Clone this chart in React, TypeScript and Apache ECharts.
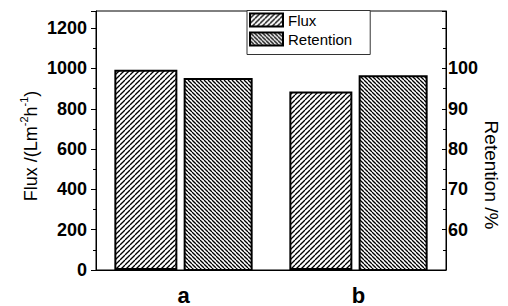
import React, { useEffect, useRef } from "react";
import * as echarts from "echarts";

const categories = ["a", "b"];
const fluxValues = [993, 886];
const retentionValues = [97.6, 98.3];
const fluxTickLabels = [0, 200, 400, 600, 800, 1000, 1200];
const retentionTickLabels = [60, 70, 80, 90, 100];

const FONT = "'Liberation Sans', Arial, sans-serif";

function hatch(size: number, forward: boolean, lw: number) {
  const c = document.createElement("canvas");
  c.width = size;
  c.height = size;
  const ctx = c.getContext("2d")!;
  ctx.fillStyle = "#fff";
  ctx.fillRect(0, 0, size, size);
  ctx.strokeStyle = "#000";
  ctx.lineWidth = lw;
  for (let k = -1; k <= 1; k++) {
    ctx.beginPath();
    if (forward) {
      ctx.moveTo(k * size, size);
      ctx.lineTo(k * size + size, 0);
    } else {
      ctx.moveTo(k * size, 0);
      ctx.lineTo(k * size + size, size);
    }
    ctx.stroke();
  }
  return c;
}

export default function App() {
  const ref = useRef<HTMLDivElement>(null);
  useEffect(() => {
    if (!ref.current) return;
    const chart = echarts.init(ref.current, null, { renderer: "svg", width: 508, height: 306 });
    const fluxPattern = { image: hatch(5, true, 1.3), repeat: "repeat" };
    const retPattern = { image: hatch(4, false, 1.3), repeat: "repeat" };
    chart.setOption({
      animation: false,
      backgroundColor: "#fff",
      grid: {
        left: 96,
        top: 11,
        width: 350,
        height: 260.5,
        show: true,
        borderColor: "#000",
        borderWidth: 1,
        backgroundColor: "transparent",
      },
      legend: {
        orient: "vertical",
        left: 247,
        top: 10.5,
        padding: [2, 18, 8, 2],
        itemWidth: 33,
        itemHeight: 13,
        itemGap: 4,
        borderColor: "#333",
        borderWidth: 1,
        backgroundColor: "#fff",
        icon: "rect",
        textStyle: { fontFamily: FONT, fontSize: 15, color: "#000" },
        data: ["Flux", "Retention"],
      },
      xAxis: [
        {
          type: "category",
          data: categories,
          axisLine: { lineStyle: { color: "#000", width: 1 } },
          axisTick: { alignWithLabel: true, length: 5, lineStyle: { color: "#000" } },
          axisLabel: {
            margin: 14,
            fontFamily: FONT,
            fontSize: 22,
            fontWeight: "bold",
            color: "#000",
          },
        },
        {
          type: "category",
          data: categories,
          position: "bottom",
          axisLine: { show: false },
          axisTick: { length: 3, lineStyle: { color: "#000" } },
          axisLabel: { show: false },
        },
      ],
      yAxis: [
        {
          type: "value",
          min: 0,
          max: 1285,
          interval: 200,
          position: "left",
          splitLine: { show: false },
          axisLine: { show: true, lineStyle: { color: "#000" } },
          axisTick: { show: true, length: 5, lineStyle: { color: "#000" } },
          minorTick: { show: true, splitNumber: 2, length: 3, lineStyle: { color: "#000" } },
          axisLabel: {
            margin: 9,
            fontFamily: FONT,
            fontSize: 18,
            fontWeight: "bold",
            color: "#000",
            showMaxLabel: false,
            formatter: (v: number) => (fluxTickLabels.includes(v) ? String(v) : ""),
          },
        },
        {
          type: "value",
          min: 50,
          max: 114.25,
          interval: 10,
          position: "right",
          splitLine: { show: false },
          axisLine: { show: true, lineStyle: { color: "#000" } },
          axisTick: { show: true, inside: true, length: 4, lineStyle: { color: "#000" } },
          minorTick: { show: true, splitNumber: 2, length: 3, lineStyle: { color: "#000" } },
          axisLabel: {
            margin: 2,
            fontFamily: FONT,
            fontSize: 18,
            fontWeight: "bold",
            color: "#000",
            showMaxLabel: false,
            formatter: (v: number) => (retentionTickLabels.includes(v) ? String(v) : ""),
          },
        },
      ],
      series: [
        {
          name: "Flux",
          type: "bar",
          xAxisIndex: 0,
          yAxisIndex: 0,
          data: fluxValues,
          barWidth: 63,
          barGap: "10%",
          itemStyle: { color: fluxPattern, borderColor: "#000", borderWidth: 2 },
        },
        {
          name: "Retention",
          type: "bar",
          xAxisIndex: 0,
          yAxisIndex: 1,
          data: retentionValues,
          barWidth: 69,
          barGap: "10%",
          itemStyle: { color: retPattern, borderColor: "#000", borderWidth: 2 },
        },
      ],
      graphic: [
        {
          type: "text",
          x: 31,
          y: 146,
          rotation: Math.PI / 2,
          style: {
            text: "{n|Flux /(Lm}{s|-2}{n|h}{s|-1}{n|)}",
            align: "center",
            verticalAlign: "middle",
            fill: "#000",
            rich: {
              n: { fontFamily: FONT, fontSize: 18, lineHeight: 26, fill: "#000" },
              s: { fontFamily: FONT, fontSize: 11, lineHeight: 11, verticalAlign: "top", fill: "#000" },
            },
          },
        },
        {
          type: "text",
          x: 491,
          y: 175,
          rotation: -Math.PI / 2,
          style: {
            text: "Retention /%",
            align: "center",
            verticalAlign: "middle",
            fontFamily: FONT,
            fontSize: 19,
            fill: "#000",
          },
        },
      ],
    });
    return () => chart.dispose();
  }, []);
  return (
    <div
      ref={ref}
      style={{ position: "fixed", left: 0, top: 0, width: 508, height: 306, background: "#fff" }}
    />
  );
}
